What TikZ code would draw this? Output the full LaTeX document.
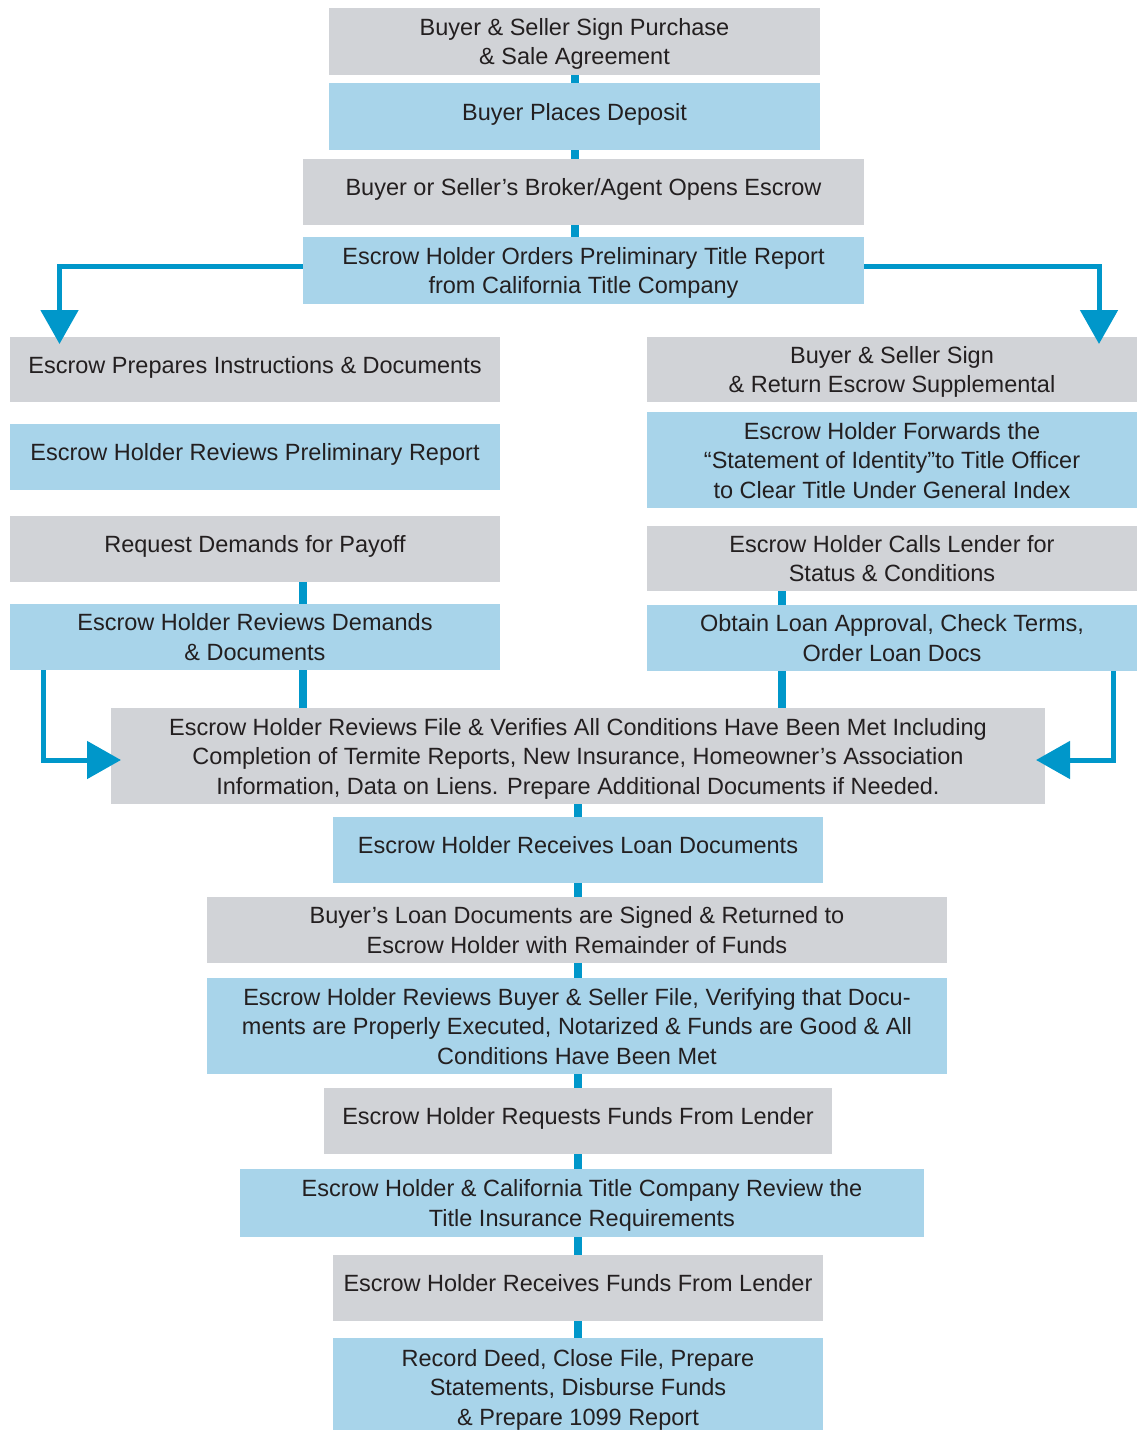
\documentclass[tikz,border=0pt]{standalone}
\usepackage{fontspec}
\setmainfont{Liberation Sans}
\usetikzlibrary{arrows.meta}
\definecolor{boxgray}{RGB}{209,211,215}
\definecolor{boxblue}{RGB}{168,212,234}
\definecolor{lineblue}{RGB}{0,151,202}
\definecolor{txt}{RGB}{35,31,32}
\newcommand\boxtext[2]{\raisebox{#1}[\height][\depth]{\begin{tabular}{@{}c@{}}#2\end{tabular}}}
\newcommand\onel[1]{\boxtext{2pt}{#1}}
\newcommand\twol[1]{\boxtext{-2.7pt}{#1}}
\newcommand\threel[1]{\boxtext{-3pt}{#1}}
\tikzset{
  base/.style={inner sep=0pt, text=txt, font=\fontsize{23.5}{29.5}\selectfont},
  gbox/.style={base, fill=boxgray},
  bbox/.style={base, fill=boxblue},
  conn/.style={draw=lineblue, line width=7.5pt},
  arr/.style={draw=lineblue, line width=5pt, -{Triangle[width=37pt,length=34pt]}}
}
\begin{document}
\begin{tikzpicture}[x=1pt,y=-1pt]
\useasboundingbox (0,0) rectangle (1146,1431);
% top chain
\node[gbox, minimum width=491pt, minimum height=67pt] (b1) at (574.5,41.5) {\twol{Buyer \& Seller Sign Purchase\\\& Sale Agreement}};
\node[bbox, minimum width=491pt, minimum height=67pt] (b2) at (574.5,116.5) {\onel{Buyer Places Deposit}};
\node[gbox, minimum width=561pt, minimum height=66pt] (b3) at (583.5,192) {\onel{Buyer or Seller’s Broker/Agent Opens Escrow}};
\node[bbox, minimum width=561pt, minimum height=67pt] (b4) at (583.5,270.5) {\twol{Escrow Holder Orders Preliminary Title Report\\from California Title Company}};
% left column
\node[gbox, minimum width=490pt, minimum height=65pt] (L1) at (255,369.5) {\onel{Escrow Prepares Instructions \& Documents}};
\node[bbox, minimum width=490pt, minimum height=66pt] (L2) at (255,457) {\onel{Escrow Holder Reviews Preliminary Report}};
\node[gbox, minimum width=490pt, minimum height=66pt] (L3) at (255,549) {\onel{Request Demands for Payoff}};
\node[bbox, minimum width=490pt, minimum height=66pt] (L4) at (255,637) {\twol{Escrow Holder Reviews Demands\\\& Documents}};
% right column
\node[gbox, minimum width=490pt, minimum height=65pt] (R1) at (892,369.5) {\twol{Buyer \& Seller Sign\\\& Return Escrow Supplemental}};
\node[bbox, minimum width=490pt, minimum height=96pt] (R2) at (892,460) {\threel{Escrow Holder Forwards the\\“Statement of Identity”to Title Officer\\to Clear Title Under General Index}};
\node[gbox, minimum width=490pt, minimum height=65pt] (R3) at (892,558.5) {\twol{Escrow Holder Calls Lender for\\Status \& Conditions}};
\node[bbox, minimum width=490pt, minimum height=66pt] (R4) at (892,638) {\twol{Obtain Loan Approval, Check Terms,\\Order Loan Docs}};
% big box
\node[gbox, minimum width=934pt, minimum height=96pt] (big) at (578,756) {\threel{Escrow Holder Reviews File \& Verifies All Conditions Have Been Met Including\\Completion of Termite Reports, New Insurance, Homeowner’s Association\\Information, Data on Liens. Prepare Additional Documents if Needed.}};
% bottom chain
\node[bbox, minimum width=490pt, minimum height=66pt] (b8) at (578,850) {\onel{Escrow Holder Receives Loan Documents}};
\node[gbox, minimum width=740pt, minimum height=66pt] (b9) at (577,930) {\twol{Buyer’s Loan Documents are Signed \& Returned to\\Escrow Holder with Remainder of Funds}};
\node[bbox, minimum width=740pt, minimum height=96pt] (b10) at (577,1026) {\threel{Escrow Holder Reviews Buyer \& Seller File, Verifying that Docu-\\ments are Properly Executed, Notarized \& Funds are Good \& All\\Conditions Have Been Met}};
\node[gbox, minimum width=508pt, minimum height=66pt] (b11) at (578,1121) {\onel{Escrow Holder Requests Funds From Lender}};
\node[bbox, minimum width=684pt, minimum height=68pt] (b12) at (582,1203) {\twol{Escrow Holder \& California Title Company Review the\\Title Insurance Requirements}};
\node[gbox, minimum width=490pt, minimum height=66pt] (b13) at (578,1288) {\onel{Escrow Holder Receives Funds From Lender}};
\node[bbox, minimum width=490pt, minimum height=92pt] (b14) at (578,1384) {\boxtext{-6pt}{Record Deed, Close File, Prepare\\Statements, Disburse Funds\\\& Prepare 1099 Report}};
% connectors
\draw[conn] (b1.south -| 575,0) -- (b2.north -| 575,0);
\draw[conn] (b2.south -| 575,0) -- (b3.north -| 575,0);
\draw[conn] (b3.south -| 575,0) -- (b4.north -| 575,0);
\draw[conn] (L3.south -| 303,0) -- (L4.north -| 303,0);
\draw[conn] (L4.south -| 303,0) -- (big.north -| 303,0);
\draw[conn] (R3.south -| 782,0) -- (R4.north -| 782,0);
\draw[conn] (R4.south -| 782,0) -- (big.north -| 782,0);
\draw[conn] (big.south -| 578,0) -- (b8.north -| 578,0);
\draw[conn] (b8.south -| 578,0) -- (b9.north -| 578,0);
\draw[conn] (b9.south -| 578,0) -- (b10.north -| 578,0);
\draw[conn] (b10.south -| 578,0) -- (b11.north -| 578,0);
\draw[conn] (b11.south -| 578,0) -- (b12.north -| 578,0);
\draw[conn] (b12.south -| 578,0) -- (b13.north -| 578,0);
\draw[conn] (b13.south -| 578,0) -- (b14.north -| 578,0);
% arrows
\coordinate (tl) at (59.5,344);
\coordinate (tr) at (1099,344);
\coordinate (ml) at (121,760);
\coordinate (mr) at (1036,760);
\draw[arr] (b4.west |- 0,266.5) -| (tl);
\draw[arr] (b4.east |- 0,266.5) -| (tr);
\draw[arr] (L4.south -| 43,0) |- (ml);
\draw[arr] (R4.south -| 1113,0) |- (mr);
\end{tikzpicture}
\end{document}
